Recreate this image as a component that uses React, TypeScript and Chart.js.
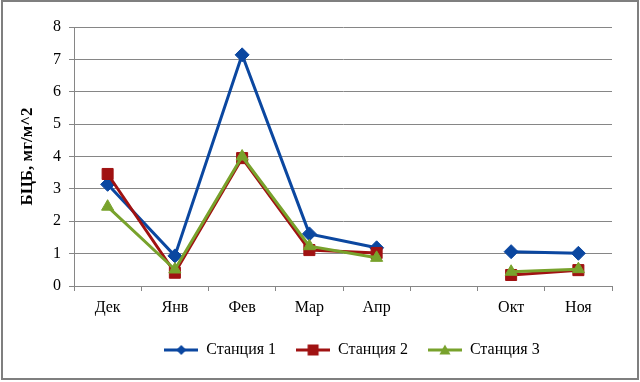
import React, { useEffect, useRef } from "react";
import { Chart, registerables } from "chart.js";

Chart.register(...registerables);

const categories = ["Дек", "Янв", "Фев", "Мар", "Апр", "", "Окт", "Ноя"];
const station1 = [3.14, 0.93, 7.14, 1.61, 1.18, null, 1.06, 1.01];
const station2 = [3.46, 0.41, 3.95, 1.11, 1.02, null, 0.34, 0.49];
const station3 = [2.45, 0.51, 4.0, 1.23, 0.87, null, 0.44, 0.52];
const seriesNames = ["Станция 1", "Станция 2", "Станция 3"];
const yTicks = [0, 1, 2, 3, 4, 5, 6, 7, 8];

const BLUE = "#0B47A0";
const RED = "#A01212";
const GREEN = "#78A22C";
const FONT = "'Liberation Serif', 'Times New Roman', serif";

function legendSymbol(color: string, style: string, r: number) {
  const c = document.createElement("canvas");
  c.width = 34;
  c.height = 14;
  const ctx = c.getContext("2d")!;
  ctx.strokeStyle = color;
  ctx.lineWidth = 3;
  ctx.beginPath();
  ctx.moveTo(0, 7);
  ctx.lineTo(34, 7);
  ctx.stroke();
  ctx.fillStyle = color;
  ctx.beginPath();
  const x = 17, y = 7;
  if (style === "diamond") {
    ctx.moveTo(x, y - r);
    ctx.lineTo(x + r, y);
    ctx.lineTo(x, y + r);
    ctx.lineTo(x - r, y);
  } else if (style === "square") {
    ctx.rect(x - r, y - r, 2 * r, 2 * r);
  } else {
    ctx.moveTo(x, y - r);
    ctx.lineTo(x + r, y + r * 0.8);
    ctx.lineTo(x - r, y + r * 0.8);
  }
  ctx.closePath();
  ctx.fill();
  return c;
}

const shiftLegend = {
  id: "shiftLegend",
  afterLayout(chart: any) {
    const lg = chart.legend;
    if (lg) {
      lg.left += 46;
      lg.right += 46;
    }
  },
};

export default function App() {
  const ref = useRef<HTMLCanvasElement>(null);
  useEffect(() => {
    if (!ref.current) return;
    const symbols = [
      legendSymbol(BLUE, "diamond", 5),
      legendSymbol(RED, "square", 5.5),
      legendSymbol(GREEN, "triangle", 5.5),
    ];
    const mk = (label: string, data: (number | null)[], color: string, ps: string, r: number, order: number, idx: number) => ({
      label,
      data,
      borderColor: color,
      backgroundColor: color,
      borderWidth: 3,
      pointStyle: ps as any,
      pointRadius: r,
      pointBackgroundColor: color,
      pointBorderColor: color,
      pointBorderWidth: 1,
      spanGaps: false,
      order,
      tension: 0,
      legendSymbol: symbols[idx],
    });
    const chart = new Chart(ref.current, {
      type: "line",
      data: {
        labels: categories,
        datasets: [
          mk(seriesNames[0], station1, BLUE, "rectRot", 7, 3, 0),
          mk(seriesNames[1], station2, RED, "rect", 7.8, 2, 1),
          mk(seriesNames[2], station3, GREEN, "triangle", 7, 1, 2),
        ] as any,
      },
      options: {
        animation: false,
        responsive: false,
        maintainAspectRatio: false,
        layout: { padding: { left: 0, right: 28, top: 27, bottom: 14 } },
        plugins: {
          tooltip: { enabled: false },
          legend: {
            position: "bottom",
            sort: (a: any, b: any) => a.datasetIndex - b.datasetIndex,
            labels: {
              usePointStyle: true,
              pointStyleWidth: 34,
              padding: 20,
              color: "#000",
              font: { family: FONT, size: 16 },
              generateLabels: (chart: any) =>
                chart.data.datasets.map((ds: any, i: number) => ({
                  text: ds.label,
                  pointStyle: ds.legendSymbol,
                  fillStyle: ds.borderColor,
                  strokeStyle: ds.borderColor,
                  lineWidth: 0,
                  hidden: false,
                  datasetIndex: i,
                  fontColor: "#000",
                })),
            },
          },
        },
        scales: {
          x: {
            type: "category",
            offset: true,
            grid: {
              offset: true,
              drawOnChartArea: false,
              drawTicks: true,
              tickLength: 5,
              color: "#868686",
            },
            border: { color: "#868686", width: 1 },
            ticks: {
              color: "#000",
              font: { family: FONT, size: 16 },
              padding: 7,
              maxRotation: 0,
              autoSkip: false,
            },
            afterFit: (s: any) => {
              s.height = 36;
            },
          },
          y: {
            min: 0,
            max: 8,
            afterBuildTicks: (s: any) => {
              s.ticks = yTicks.map((v) => ({ value: v }));
            },
            grid: { color: "#868686", tickLength: 5, drawTicks: true },
            border: { color: "#868686", width: 1 },
            ticks: {
              color: "#000",
              font: { family: FONT, size: 16 },
              padding: 8,
            },
            title: {
              display: true,
              text: "БЦБ, мг/м^2",
              color: "#000",
              font: { family: FONT, size: 17, weight: "bold" },
              padding: { top: 17, bottom: 0 },
            },
            afterFit: (s: any) => {
              s.width = 74;
            },
          },
        },
      },
      plugins: [shiftLegend],
    });
    return () => chart.destroy();
  }, []);
  return (
    <div style={{ position: "fixed", left: 0, top: 0, width: 640, height: 382, background: "#fff" }}>
      <canvas ref={ref} width={640} height={382} style={{ position: "absolute", left: 0, top: 0 }} />
      <div
        style={{
          position: "absolute",
          left: 1,
          top: 0,
          width: 638,
          height: 380,
          boxSizing: "border-box",
          border: "2px solid #7f7f7f",
          pointerEvents: "none",
        }}
      />
    </div>
  );
}
